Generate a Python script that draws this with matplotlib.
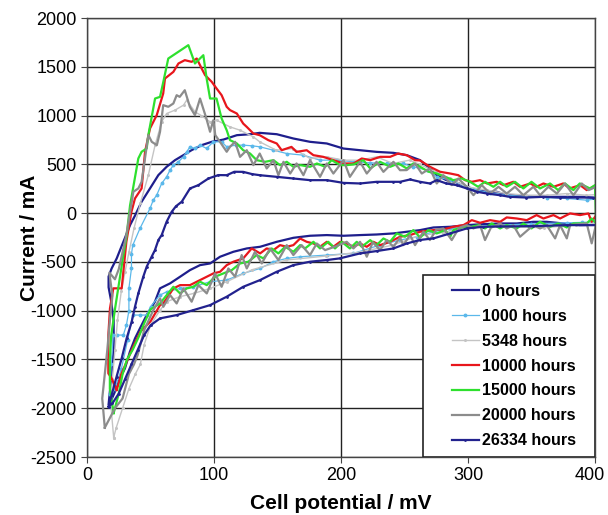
import matplotlib
matplotlib.use("Agg")
import matplotlib.pyplot as plt
from matplotlib.patches import Rectangle
from matplotlib.transforms import ScaledTranslation

plt.rcParams['font.family'] = ['Liberation Sans', 'DejaVu Sans']
plt.rcParams['axes.unicode_minus'] = False

# 0 hours (outer navy loop)
e_0h = [17, 19, 21, 21, 19, 17, 17, 19.4, 23.4, 26, 30, 34, 38, 43, 49.6, 56.2, 62.7, 69.3, 76, 82.4,
        90.3, 98.2, 107.4, 118, 128.4, 136, 149.4, 162.5, 175.6, 188.8, 202, 215, 228, 241.3, 251.8,
        262.3, 270, 275.4, 283, 289.8, 299, 307, 314.8, 322.6, 330.5, 341, 351.5, 364.6, 377.8, 391, 402.7,
        402.7, 388, 375, 362, 351.5, 338.4, 325.3, 312, 299, 286, 272.8, 262.3, 251.8, 241.3, 228, 215,
        202, 188.8, 175.6, 162.5, 149.4, 136.3, 125.8, 115.3, 104.8, 96.9, 89, 81.1, 73.3, 65.4, 57.5,
        53.5, 47, 41.7, 37.8, 33.8, 29.9, 26, 22, 18]
i_0h = [-1960, -1700, -1400, -1100, -900, -760, -650, -567, -464, -379, -250, -120, -20, 117, 253, 390,
        475, 543, 595, 646, 697, 731, 754, 799, 809, 823, 809, 765, 731, 714, 662, 645, 628, 618, 594,
        543, 458, 389, 338, 321, 270, 236, 219, 219, 184, 184, 167, 167, 167, 167, 150,
        -120, -123, -106, -89, -89, -106, -106, -113, -123, -140, -147, -174, -191, -208, -219, -225,
        -232, -225, -232, -253, -294, -345, -362, -396, -447, -516, -533, -584, -652, -720, -771,
        -908, -1045, -1181, -1284, -1420, -1591, -1693, -1830, -1950]

# 1000 hours
e_1000h = [18, 19, 20.7, 24, 28.6, 31, 33, 33, 33, 35, 35, 36, 41.7, 49.6, 52.2, 54.9, 58.8, 62.7, 65.4,
           68, 72, 76, 78.5, 81.1, 85, 89, 94.2, 99.5, 106, 110, 117, 123, 130, 136, 146.8, 157.3, 170.4,
           183.5, 196.6, 210, 223, 236, 249, 257, 267.5, 275.4, 286, 296.4, 307, 317.4, 330.5, 346, 362,
           378, 393.5, 402.7,
           402.7, 390, 377.8, 350, 325.3, 299, 286, 272.8, 259.6, 246.5, 230, 209.8, 188.8, 167.8, 157.3,
           146.8, 136.3, 123, 110, 96.9, 83.8, 73.3, 62.8, 57.5, 50, 47, 42, 36, 32, 27, 22, 18]
i_1000h = [-1850, -1550, -1250, -1250, -1250, -1150, -1000, -880, -770, -567, -420, -330, -157, 48, 134,
           185, 304, 373, 441, 492, 526, 578, 629, 680, 663, 697, 663, 731, 731, 680, 697, 697, 690, 680,
           645, 611, 594, 543, 543, 526, 516, 509, 509, 475, 441, 372, 338, 287, 236, 208, 184, 167, 160,
           150, 133, 150,
           -89, -95, -99, -110, -123, -140, -160, -191, -242, -276, -330, -413, -430, -447, -464,
           -498, -567, -618, -686, -703, -755, -772, -806, -840, -960, -1045, -1045, -1045, -1300,
           -1600, -1800, -1850]

# 5348 hours
e_5348h = [21, 19, 20, 22, 24, 27, 30, 33, 37, 42, 48.3, 53.6, 58.8, 62.7, 69.3, 76, 78.5, 85, 90, 96.9,
           102, 112.6, 120.5, 131, 136, 149, 162.5, 175.6, 188.8, 202, 215, 228, 241, 254, 262, 275, 286,
           299, 315, 330, 346, 362, 378, 393, 401,
           401, 385, 360, 330, 300, 280, 262, 240, 215, 188, 157, 130, 110, 97, 84, 73, 62.8, 57.5, 50,
           45, 42, 38, 33, 28, 23, 21]
i_5348h = [-2300, -2000, -1700, -1400, -1100, -800, -600, -400, -157, 100, 390, 697, 936, 1021, 1056,
           1107, 1158, 1039, 1000, 936, 953, 884, 850, 782, 731, 645, 662, 560, 577, 543, 543, 577, 509,
           543, 500, 420, 355, 270, 236, 201, 184, 184, 201, 184, 190,
           -110, -120, -150, -140, -140, -200, -230, -330, -400, -440, -481, -580, -703, -772, -823,
           -857, -908, -994, -1150, -1350, -1550, -1650, -1800, -2000, -2200, -2300]

# 10000 hours
e_10000h = [23.4, 19.4, 16.8, 16.8, 18.1, 20.7, 27.3, 28.6, 31, 35, 37.8, 43, 45.7, 49.6, 54.9, 60, 61.4,
            68, 72, 77, 82.4, 86.4, 90.3, 93, 98.2, 102, 106, 110, 112.6, 118, 123, 125.8, 131, 136,
            142.8, 149.4, 153.3, 161, 165, 173, 178.3, 186, 194, 202, 210, 216.3, 223, 230.8, 238.7, 245,
            251.8, 258.3, 262.3, 270, 278, 286, 292.4, 297.7, 303, 309.5, 315, 322.6, 328, 335.7, 341,
            349, 354, 359.4, 367.3, 375, 380, 388.3, 393.5, 401,
            401, 397.4, 394.8, 388.3, 380.4, 372.5, 367.3, 359.4, 354, 346.3, 338.4, 330.5, 325.3, 317.4,
            309.5, 303, 296.4, 288.5, 280.6, 272.8, 262.3, 254.4, 246.5, 238.6, 230.8, 225.5, 220.3, 215,
            209.8, 204.5, 199.3, 194, 188.8, 183.5, 178.3, 173, 167.8, 162.5, 157.3, 152, 146.8, 141.5,
            136.3, 129.7, 123, 115.3, 110, 104.8, 99.5, 94.3, 86.4, 81.1, 73.3, 68, 62.8, 60, 57.5, 50,
            42, 36, 31, 27, 23.4]
i_10000h = [-1813, -1694, -1643, -1250, -976, -771, -771, -600, -293, 14, 151, 253, 629, 868, 1004, 1226,
            1380, 1448, 1534, 1568, 1551, 1585, 1482, 1414, 1346, 1278, 1209, 1090, 1056, 1021, 918, 884,
            816, 799, 748, 714, 645, 679, 628, 645, 594, 577, 543, 509, 509, 560, 543, 577, 577, 611, 594,
            543, 540, 475, 424, 406, 389, 338, 321, 338, 304, 321, 287, 321, 270, 304, 270, 304, 270, 304,
            253, 287, 236, 287,
            -20, -89, -3, -20, -3, -55, -20, -55, -20, -72, -55, -44, -89, -72, -99, -72, -123, -140,
            -167, -174, -191, -225, -242, -294, -328, -294, -345, -311, -345, -311, -294, -345, -294,
            -345, -311, -294, -260, -328, -345, -328, -379, -362, -413, -362, -464, -498, -533, -601,
            -618, -652, -703, -738, -738, -772, -874, -926, -943, -1110, -1215, -1380, -1530, -1650,
            -1813]

# 15000 hours
e_15000h = [21, 18, 18, 19, 22, 26, 29, 31, 33.9, 40.4, 43, 47, 48.3, 53.6, 57.5, 60.1, 64, 79.8, 85,
            91.6, 94.2, 96.9, 102, 106, 110, 112.6, 118, 123, 128.4, 133.6, 140.2, 146.8, 152, 157.3,
            162.5, 168, 175.6, 181, 187.5, 192.7, 199.3, 204.5, 210, 217.6, 223, 230.8, 238.7, 245.2,
            251.8, 257, 262.3, 269, 275.4, 282, 288.5, 295, 301.6, 308, 313.4, 320, 325.3, 330.5, 337,
            343.6, 350, 356.7, 364.6, 371, 376.4, 383, 388, 396, 400,
            401, 397.4, 393.5, 383, 377.8, 371, 364.6, 356.7, 350, 343.6, 338.4, 330.5, 325.3, 318.7,
            313.4, 308.2, 303, 296.4, 288.5, 286, 282, 275.4, 268.8, 262.3, 257, 250.4, 243.9, 238.6,
            233.4, 228, 223, 216.3, 212.4, 207, 200.6, 195.3, 190, 183.5, 178.3, 171.7, 167.8, 162.5,
            156, 150.7, 145.4, 138.9, 133.6, 127, 120.5, 114, 107.4, 100.8, 94.3, 89, 83.8, 78.5, 73.3,
            68, 62.8, 57.5, 50, 45, 41, 36, 31.5, 28, 25, 21]
i_15000h = [-2050, -1800, -1500, -1260, -986, -650, -400, -250, 80, 560, 629, 663, 800, 1175, 1192, 1346,
            1585, 1722, 1534, 1619, 1380, 1175, 1175, 970, 850, 748, 714, 645, 611, 543, 526, 543, 492,
            526, 475, 492, 475, 509, 475, 543, 492, 492, 500, 543, 458, 526, 475, 509, 458, 509, 475,
            424, 406, 372, 338, 355, 321, 270, 321, 270, 321, 270, 321, 253, 321, 253, 304, 236, 304,
            236, 304, 253, 287,
            -106, -55, -106, -106, -147, -106, -140, -89, -157, -106, -157, -123, -157, -106, -157,
            -123, -140, -140, -174, -242, -174, -208, -174, -250, -174, -242, -208, -294, -260, -328,
            -277, -345, -294, -362, -294, -362, -294, -362, -294, -362, -328, -396, -345, -413, -362,
            -464, -430, -498, -516, -584, -618, -652, -738, -703, -755, -772, -823, -755, -840, -926,
            -986, -1130, -1260, -1400, -1500, -1650, -1850, -2050]

# 20000 hours
e_20000h = [14, 12, 14, 16, 18, 20, 17.6, 22, 25, 28, 31, 36.5, 40.4, 43, 48.3, 51, 55, 57.5, 60, 64, 68,
            70.6, 73, 77, 81, 85, 89, 94, 96.9, 99.5, 101, 104.7, 110, 112.6, 116.6, 120.5, 125.8, 131,
            136, 141.5, 146.8, 150.7, 154.7, 160, 165, 170.4, 175.6, 183.5, 188.8, 194, 202, 207, 215,
            220.3, 228, 233.4, 241.3, 246.5, 251.7, 258.3, 263.6, 270, 275.4, 280.6, 287.2, 292.4, 299,
            304.3, 310.8, 317.4, 324, 330.5, 337, 343.6, 351.5, 356.7, 363.3, 370, 376.4, 383, 389.6,
            395, 401,
            401, 397.4, 393.5, 386, 380.4, 377.8, 372.5, 368.6, 362, 356.7, 351.5, 341, 335.7, 330.5,
            325.3, 318, 313.4, 309.5, 304.3, 299, 293, 287.2, 280.6, 275, 270, 264.9, 258.3, 254.4, 249,
            246.5, 241.3, 236, 230.8, 225, 220.3, 215, 209.8, 204.5, 196, 187.5, 180.9, 175.6, 169,
            162.5, 157.3, 150.7, 144.1, 137.6, 132.3, 125.8, 121.8, 116.6, 111.3, 106, 100.8, 94.3,
            87.7, 82.4, 75.9, 70.6, 65.4, 60.1, 57.5, 52, 45, 40, 37, 33, 28, 22, 18, 14]
i_20000h = [-2200, -1900, -1650, -1400, -1100, -850, -610, -678, -575, -400, -225, 219, 253, 321, 800,
            731, 697, 834, 1107, 1090, 1124, 1209, 1192, 1260, 1090, 1004, 1175, 970, 834, 953, 800, 731,
            629, 680, 731, 577, 645, 492, 611, 458, 543, 389, 526, 406, 509, 389, 543, 372, 509, 406, 543,
            372, 526, 406, 526, 423, 526, 440, 441, 509, 406, 458, 304, 389, 287, 355, 270, 184, 287, 201,
            270, 201, 270, 184, 270, 184, 270, 201, 304, 184, 304, 236, 270,
            -106, -310, -106, -115, -123, -259, -123, -259, -123, -157, -123, -242, -123, -157, -106,
            -150, -276, -123, -157, -123, -150, -276, -157, -170, -276, -191, -328, -225, -328, -250,
            -345, -277, -379, -300, -447, -294, -362, -294, -340, -379, -311, -430, -328, -430, -328,
            -481, -362, -516, -396, -567, -430, -652, -567, -755, -618, -823, -738, -908, -772, -926,
            -840, -960, -874, -1000, -1200, -1450, -1550, -1650, -1900, -2000, -2100, -2200]

# 26334 hours (inner navy loop)
e_26334h = [17, 19.4, 23.3, 27.3, 31.2, 35.2, 37.8, 40.4, 44.3, 47, 50.9, 53.5, 56.2, 58.8, 62.7, 66.7,
            70, 74.6, 81.1, 87.7, 95.6, 103.4, 110, 116, 123, 130, 136, 149.4, 162.5, 175.6, 188.8, 202,
            215, 228, 241.3, 246.5, 254.4, 262.3, 270, 275.4, 283, 291, 299, 307, 315, 325, 333, 346,
            359.4, 372.5, 385.6, 398.7, 402,
            402, 377.8, 351.5, 325, 312, 299, 286, 272.8, 262.3, 251.8, 241.3, 228, 215, 199, 188.8,
            175.6, 162.5, 149.4, 136.3, 123, 110, 96.9, 83.8, 70.6, 57.5, 50, 45, 40, 35, 30, 25, 20, 17]
i_26334h = [-1984, -1864, -1676, -1489, -1284, -1113, -959, -823, -652, -549, -447, -379, -276, -225,
            -88, 14, 70, 117, 253, 287, 355, 390, 389, 424, 423, 400, 389, 372, 355, 338, 338, 310, 304,
            321, 321, 321, 345, 321, 304, 338, 304, 287, 253, 219, 201, 184, 167, 160, 167, 160, 160, 160,
            150,
            -123, -123, -133, -137, -140, -157, -208, -259, -275, -311, -362, -389, -413, -464, -481,
            -498, -533, -601, -686, -755, -857, -943, -994, -1045, -1079, -1150, -1250, -1400, -1550,
            -1700, -1850, -1950, -1984]

labels = ['0 hours', '1000 hours', '5348 hours', '10000 hours', '15000 hours', '20000 hours', '26334 hours']
x_ticks = [0, 100, 200, 300, 400]
y_ticks = [-2500, -2000, -1500, -1000, -500, 0, 500, 1000, 1500, 2000]

series = [
    (e_0h, i_0h, dict(color='#1e1e8c', lw=1.6)),
    (e_1000h, i_1000h, dict(color='#5bb8ea', lw=0.9, marker='o', ms=1.8)),
    (e_5348h, i_5348h, dict(color='#c4c4c4', lw=1.0, marker='o', ms=1.2)),
    (e_10000h, i_10000h, dict(color='#e8161c', lw=1.6)),
    (e_15000h, i_15000h, dict(color='#2ee02e', lw=1.6)),
    (e_20000h, i_20000h, dict(color='#8c8c8c', lw=1.6)),
    (e_26334h, i_26334h, dict(color='#22228e', lw=1.6, marker='o', ms=1.0)),
]

fig = plt.figure(figsize=(6.08, 5.15), dpi=100)
ax = fig.add_axes([0.1431, 0.1126, 0.8355, 0.8524])

for (e, i, style), lab in zip(series, labels):
    ax.plot(e, i, label=lab, **style)

ax.set_xlim(0, 400)
ax.set_ylim(-2500, 2000)
ax.set_xticks(x_ticks)
ax.set_yticks(y_ticks)
ax.grid(True, color='#222222', lw=1.0)
ax.set_axisbelow(True)
for s in ax.spines.values():
    s.set_color('#444444')
    s.set_linewidth(1.0)
ax.tick_params(labelsize=13, length=4, color='#444444')

# keep the last x tick label inside the figure edge
last = ax.get_xticklabels()[-1]
last.set_transform(last.get_transform() + ScaledTranslation(-4 / 72, 0, fig.dpi_scale_trans))

ax.set_xlabel('Cell potential / mV', fontsize=15, fontweight='bold', labelpad=7)
ax.set_ylabel('Current / mA', fontsize=15, fontweight='bold')
ax.yaxis.set_label_coords(-0.095, 0.5)

# legend box: white frame in the lower right corner, entries placed inside it
box_left, box_h = 0.661, 0.4146
ax.add_patch(Rectangle((box_left, 0.0), 1.0 - box_left, box_h, transform=ax.transAxes,
                       facecolor='white', edgecolor='#222222', lw=1.2, zorder=4))
leg = ax.legend(loc='center left', bbox_to_anchor=(box_left + 0.057, box_h / 2), borderaxespad=0.0,
                frameon=False, prop={'weight': 'bold', 'size': 11.5},
                handlelength=1.7, labelspacing=0.62, borderpad=0.0, handletextpad=0.2)
leg.set_zorder(5)

fig.savefig('out.png', dpi=100)
